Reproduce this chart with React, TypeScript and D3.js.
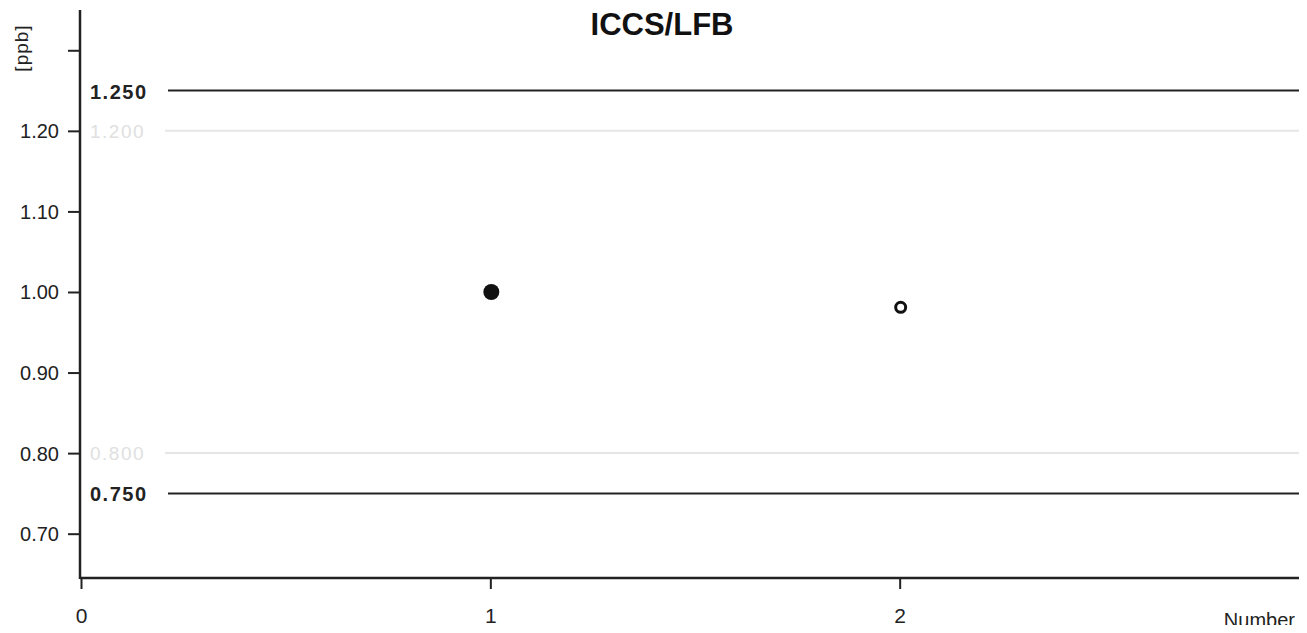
import React, { useEffect, useRef } from 'react';
import * as d3 from 'd3';

const xTicks = [0, 1, 2];
const yTicks = [0.7, 0.8, 0.9, 1.0, 1.1, 1.2, 1.3];
const yTickLabels = ['0.70', '0.80', '0.90', '1.00', '1.10', '1.20', ''];

// limit lines
const limitValues = [1.25, 0.75];
const limitLabels = ['1.250', '0.750'];
// warning lines (printed faint)
const warnValues = [1.2, 0.8];
const warnLabels = ['1.200', '0.800'];

// measured results
const pointX = [1, 2];
const pointY = [1.0, 0.981];
const pointFilled = [true, false];

const App = () => {
  const ref = useRef(null);

  useEffect(() => {
    const width = 1307;
    const height = 633;
    const font = 'Liberation Sans, Arial, sans-serif';
    const root = d3.select(ref.current);
    root.selectAll('*').remove();

    const svg = root
      .append('svg')
      .attr('width', width)
      .attr('height', height)
      .style('display', 'block')
      .style('font-family', font);

    const x = d3.scaleLinear().domain([0, 3]).range([81, 1309]);
    const y = d3.scaleLinear().domain([0.645, 1.35]).range([578, 10]);

    // title
    svg.append('text')
      .attr('x', 662)
      .attr('y', 35)
      .attr('text-anchor', 'middle')
      .style('font-size', '31px')
      .style('font-weight', 'bold')
      .style('fill', '#111')
      .text('ICCS/LFB');

    // warning lines (faint)
    svg.selectAll('.warn')
      .data(warnValues)
      .enter()
      .append('line')
      .attr('x1', 165)
      .attr('x2', width)
      .attr('y1', d => y(d))
      .attr('y2', d => y(d))
      .attr('stroke', '#e6e6e6')
      .attr('stroke-width', 2);

    svg.selectAll('.warnLabel')
      .data(warnValues)
      .enter()
      .append('text')
      .attr('x', 90)
      .attr('y', d => y(d) + 7)
      .style('font-size', '19px')
      .style('letter-spacing', '1.5px')
      .style('fill', '#e0e0e0')
      .text((d, i) => warnLabels[i]);

    // limit lines
    svg.selectAll('.limit')
      .data(limitValues)
      .enter()
      .append('line')
      .attr('x1', 168)
      .attr('x2', width)
      .attr('y1', d => y(d))
      .attr('y2', d => y(d))
      .attr('stroke', '#222')
      .attr('stroke-width', 2);

    svg.selectAll('.limitLabel')
      .data(limitValues)
      .enter()
      .append('text')
      .attr('x', 90)
      .attr('y', d => y(d) + 8)
      .style('font-size', '20px')
      .style('font-weight', 'bold')
      .style('letter-spacing', '1.5px')
      .style('fill', '#222')
      .text((d, i) => limitLabels[i]);

    // y axis
    const yAxis = d3.axisLeft(y)
      .tickValues(yTicks)
      .tickSize(12)
      .tickPadding(9)
      .tickFormat((d, i) => yTickLabels[i]);
    const gy = svg.append('g').attr('transform', 'translate(80,0)').call(yAxis);
    gy.select('.domain').remove();
    gy.append('line').attr('x1', 0).attr('x2', 0).attr('y1', 10).attr('y2', 579)
      .attr('stroke', '#222').attr('stroke-width', 2.5);
    gy.selectAll('.tick line').attr('stroke', '#222').attr('stroke-width', 2);
    gy.selectAll('.tick text')
      .style('font-size', '20px')
      .style('font-family', font)
      .attr('dy', '0.35em')
      .attr('fill', '#222');

    // x axis
    const xAxis = d3.axisBottom(x)
      .tickValues(xTicks)
      .tickSize(11)
      .tickPadding(19)
      .tickFormat(d3.format('d'));
    const gx = svg.append('g').attr('transform', 'translate(0,578)').call(xAxis);
    gx.select('.domain').remove();
    gx.append('line').attr('x1', 80).attr('x2', width).attr('y1', 0).attr('y2', 0)
      .attr('stroke', '#222').attr('stroke-width', 2.5);
    gx.append('line').attr('x1', width - 1).attr('x2', width - 1).attr('y1', 0).attr('y2', 11)
      .attr('stroke', '#222').attr('stroke-width', 2);
    gx.selectAll('.tick line').attr('stroke', '#222').attr('stroke-width', 2);
    gx.selectAll('.tick text')
      .style('font-size', '21px')
      .style('font-family', font)
      .attr('fill', '#222');

    // axis titles
    svg.append('text')
      .attr('transform', 'translate(28,48) rotate(-90)')
      .attr('text-anchor', 'middle')
      .style('font-size', '19px')
      .style('letter-spacing', '1px')
      .style('fill', '#222')
      .text('[ppb]');

    svg.append('text')
      .attr('x', 1295)
      .attr('y', 627)
      .attr('text-anchor', 'end')
      .style('font-size', '20px')
      .style('fill', '#222')
      .text('Number');

    // points
    svg.selectAll('.pt')
      .data(pointX)
      .enter()
      .append('circle')
      .attr('cx', d => x(d) + 1)
      .attr('cy', (d, i) => y(pointY[i]))
      .attr('r', (d, i) => (pointFilled[i] ? 8 : 5))
      .attr('fill', (d, i) => (pointFilled[i] ? '#111' : 'none'))
      .attr('stroke', '#111')
      .attr('stroke-width', (d, i) => (pointFilled[i] ? 0 : 3));
  }, []);

  return <div ref={ref} style={{ margin: -8 }}></div>;
};

export default App;
